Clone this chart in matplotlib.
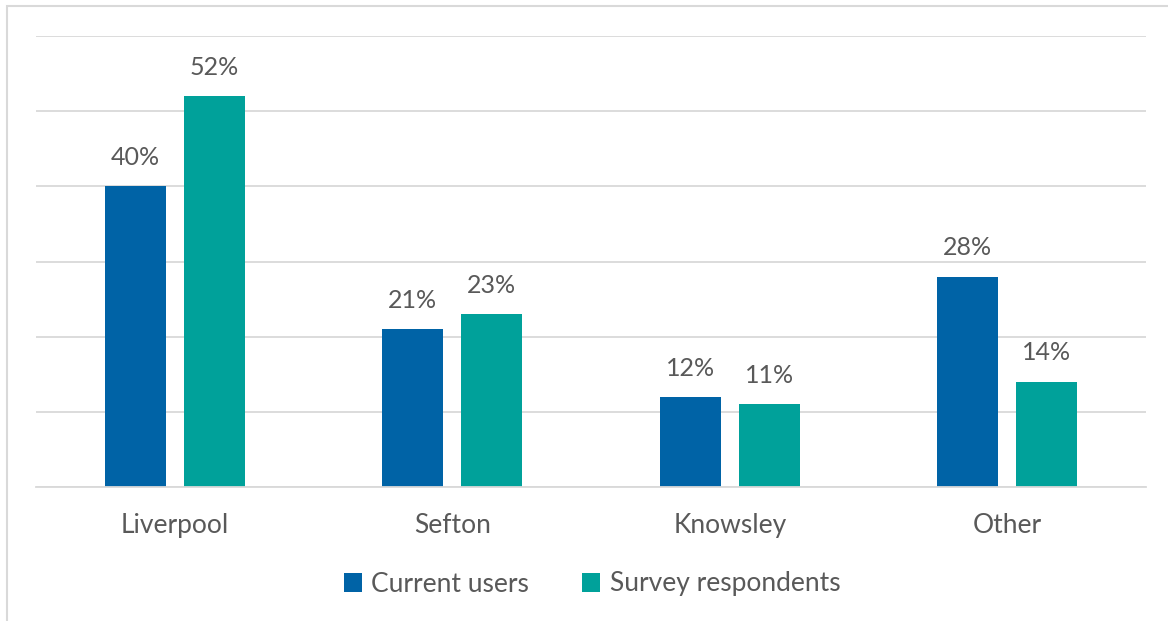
import matplotlib.pyplot as plt
import numpy as np
from matplotlib.patches import Rectangle

# Data
areas = ['Liverpool', 'Sefton', 'Knowsley', 'Other']
current_users = [40, 21, 12, 28]
survey_respondents = [52, 23, 11, 14]

blue = '#0063A6'
teal = '#00A19A'
grey_text = '#595959'
grid_col = '#D9D9D9'

plt.rcParams['font.family'] = ['Lato', 'DejaVu Sans']

fig = plt.figure(figsize=(11.68, 6.21), dpi=100)
W, H = 1168, 621
ax = fig.add_axes([36 / W, 1 - 487 / H, 1110 / W, (487 - 36) / H])

x = np.arange(len(areas))
w = 0.22
off = 0.142
b1 = ax.bar(x - off, current_users, w, color=blue, label='Current users')
b2 = ax.bar(x + off, survey_respondents, w, color=teal, label='Survey respondents')

for bars in (b1, b2):
    for rect in bars:
        h = rect.get_height()
        ax.text(rect.get_x() + rect.get_width() / 2, h + 2.3, f'{h:.0f}%',
                ha='center', va='bottom', fontsize=18, color=grey_text)

ax.set_xlim(-0.5, len(areas) - 0.5)
ax.set_ylim(0, 60)
ax.set_yticks(np.arange(0, 61, 10))
ax.yaxis.grid(True, color=grid_col, linewidth=1.3)
ax.set_axisbelow(True)
ax.tick_params(axis='y', left=False, labelleft=False)
ax.tick_params(axis='x', bottom=False, labelsize=19, labelcolor=grey_text, pad=15)
ax.set_xticks(x)
ax.set_xticklabels(areas)
for s in ['top', 'right', 'left']:
    ax.spines[s].set_visible(False)
ax.spines['bottom'].set_color(grid_col)
ax.spines['bottom'].set_linewidth(1.3)

fig.legend(loc='center', bbox_to_anchor=(592 / W, 1 - 584 / H), ncol=2,
           frameon=False, fontsize=19, labelcolor=grey_text,
           handlelength=0.7, handleheight=0.7, handletextpad=0.35, columnspacing=2.0)

# outer chart border
fig.patches.append(Rectangle((7 / W, -0.1), 1.2, 1 - 6 / H + 0.1,
                             transform=fig.transFigure, fill=False,
                             edgecolor=grid_col, linewidth=1.5))

fig.savefig('out.png', dpi=100)
